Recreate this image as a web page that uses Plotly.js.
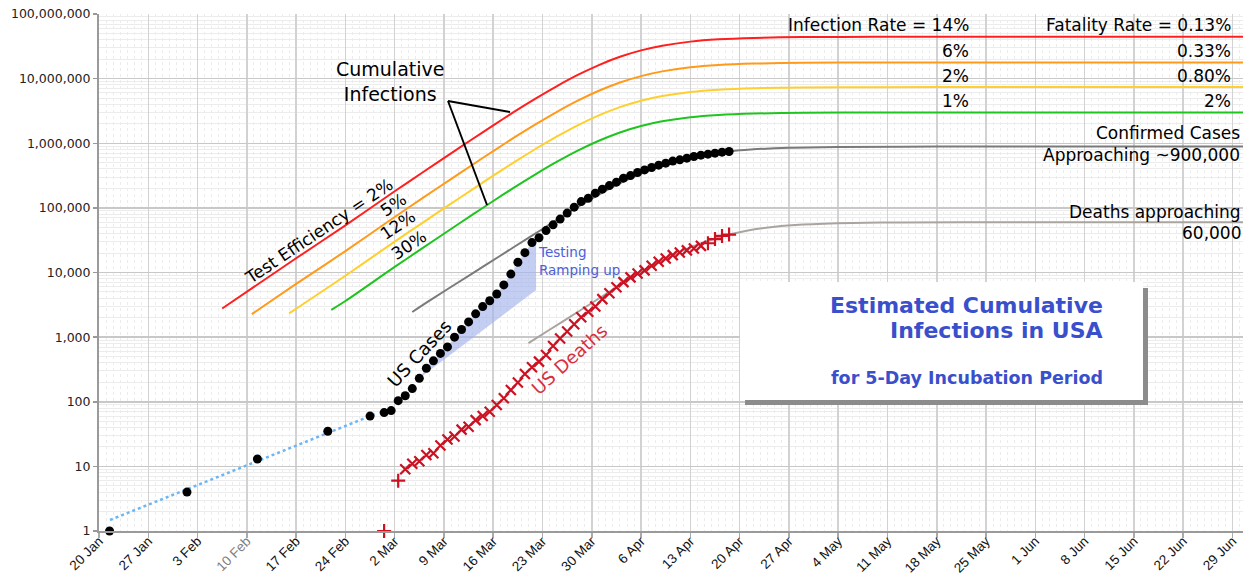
<!DOCTYPE html>
<html>
<head>
<meta charset="utf-8">
<script src="https://cdn.plot.ly/plotly-3.0.1.min.js"></script>
<style>
html,body{margin:0;padding:0;background:#fff;}
#chart{width:1245px;height:577px;}
</style>
</head>
<body>
<div id="chart"></div>
<script>
// ---------------- data ----------------
const earlyCaseDates = ['2020-01-21','2020-02-01','2020-02-11','2020-02-21','2020-02-27','2020-02-29','2020-03-01'];
const earlyCases     = [1, 4, 13, 35, 60, 68, 73];

const dailyDates = ['2020-03-02','2020-03-03','2020-03-04','2020-03-05','2020-03-06','2020-03-07','2020-03-08','2020-03-09','2020-03-10','2020-03-11',
  '2020-03-12','2020-03-13','2020-03-14','2020-03-15','2020-03-16','2020-03-17','2020-03-18','2020-03-19','2020-03-20','2020-03-21',
  '2020-03-22','2020-03-23','2020-03-24','2020-03-25','2020-03-26','2020-03-27','2020-03-28','2020-03-29','2020-03-30','2020-03-31',
  '2020-04-01','2020-04-02','2020-04-03','2020-04-04','2020-04-05','2020-04-06','2020-04-07','2020-04-08','2020-04-09','2020-04-10',
  '2020-04-11','2020-04-12','2020-04-13','2020-04-14','2020-04-15','2020-04-16','2020-04-17','2020-04-18'];
const dailyCases = [104,124,160,230,330,430,560,705,1000,1310,
  1720,2290,2970,3650,4640,6430,9450,14400,20300,29000,
  34500,44500,54600,67000,83000,102500,125000,141000,169000,195000,
  221000,250000,288000,316000,352000,387000,421000,458000,492000,529000,
  554000,588000,623000,655000,678000,703000,728000,745000];

const firstDeathDates = ['2020-02-29'];
const firstDeaths     = [1];
const dailyDeaths = [6,9,11,12,15,16,21,26,29,37,
  41,52,60,70,89,113,152,198,269,342,
  418,530,730,950,1220,1580,2030,2470,2980,3870,
  4760,5930,7090,8410,9620,10780,12720,14700,16480,18590,
  20460,22020,23530,25830,28330,32900,36770,38660];

// estimated cumulative infections for each test efficiency (curves)
const redDates = ['2020-02-06 12:00','2020-02-17','2020-02-24','2020-03-02','2020-03-06','2020-03-10','2020-03-13','2020-03-16','2020-03-19','2020-03-22','2020-03-25','2020-03-28','2020-03-31','2020-04-03','2020-04-06','2020-04-09','2020-04-13','2020-04-17','2020-04-22','2020-04-29','2020-05-09','2020-05-24','2020-07-01'];
const redInf = [2770,16600,53600,180700,356000,698000,1153000,1892000,3076000,4898000,7603000,11390000,16220000,21760000,27350000,32340000,37380000,40580000,42710000,43930000,44360000,44490000,44500000];

const orangeDates = ['2020-02-10 17:00','2020-02-17','2020-02-24','2020-03-02','2020-03-06','2020-03-10','2020-03-13','2020-03-16','2020-03-19','2020-03-22','2020-03-25','2020-03-28','2020-03-31','2020-04-03','2020-04-06','2020-04-09','2020-04-13','2020-04-17','2020-04-22','2020-04-29','2020-05-09','2020-05-24','2020-07-01'];
const orangeInf = [2270,6650,21460,72300,142600,279300,461300,756800,1230000,1959000,3041000,4556000,6486000,8703000,10940000,12940000,14950000,16230000,17080000,17580000,17740000,17800000,17800000];

const yellowDates = ['2020-02-16','2020-02-24','2020-03-02','2020-03-06','2020-03-10','2020-03-13','2020-03-16','2020-03-19','2020-03-22','2020-03-25','2020-03-28','2020-03-31','2020-04-03','2020-04-06','2020-04-09','2020-04-13','2020-04-17','2020-04-22','2020-04-29','2020-05-09','2020-05-24','2020-07-01'];
const yellowInf = [2330,8920,30060,59290,116100,191900,314800,511700,814700,1265000,1895000,2698000,3620000,4550000,5380000,6219000,6750000,7106000,7308000,7383000,7400000,7400000];

const greenDates = ['2020-02-22','2020-02-24','2020-03-02','2020-03-06','2020-03-10','2020-03-13','2020-03-16','2020-03-19','2020-03-22','2020-03-25','2020-03-28','2020-03-31','2020-04-03','2020-04-06','2020-04-09','2020-04-13','2020-04-17','2020-04-22','2020-04-29','2020-05-09','2020-05-24','2020-07-01'];
const greenInf = [2640,3620,12190,24040,47100,77800,127600,207500,330400,512900,768300,1094000,1468000,1845000,2182000,2522000,2737000,2882000,2963000,2993000,3000000,3000000];

// fitted confirmed-cases and deaths curves
const caseFitDates = ['2020-03-04 12:00','2020-03-07','2020-03-11','2020-03-15','2020-03-19','2020-03-23','2020-03-27','2020-03-31','2020-04-04','2020-04-08','2020-04-12','2020-04-16','2020-04-20','2020-04-27','2020-05-04','2020-05-18','2020-07-01'];
const caseFit = [2450,3700,7000,13200,25000,47100,89000,161000,271000,414000,564000,689000,776000,851000,877000,888000,889000];

const deathFitDates = ['2020-03-21','2020-03-24','2020-03-28','2020-04-01','2020-04-05','2020-04-09','2020-04-13','2020-04-17','2020-04-21','2020-04-25','2020-04-29','2020-05-06','2020-05-13','2020-05-27','2020-07-01'];
const deathFit = [810,1300,2450,4650,8690,15300,24500,34900,44300,51000,55200,58500,59560,59960,60000];

// early exponential trend of cases (light blue dotted)
const trendDates = ['2020-01-21 13:30','2020-02-28 11:00'];
const trendVals  = [1.48, 66];

// "Testing ramping up" shaded wedge: right edge of the wedge
const rampEdgeDates = ['2020-03-22 02:00','2020-03-22 02:00'];
const rampEdgeVals  = [28700, 5380];

// axis ticks
const xTickVals = ['2020-01-20','2020-01-27','2020-02-03','2020-02-10','2020-02-17','2020-02-24','2020-03-02','2020-03-09','2020-03-16','2020-03-23','2020-03-30','2020-04-06','2020-04-13','2020-04-20','2020-04-27','2020-05-04','2020-05-11','2020-05-18','2020-05-25','2020-06-01','2020-06-08','2020-06-15','2020-06-22','2020-06-29'];
const xTickText = ['20 Jan','27 Jan','3 Feb','<span style="color:#808080">10 Feb</span>','17 Feb','24 Feb','2 Mar','9 Mar','16 Mar','23 Mar','30 Mar','6 Apr','13 Apr','20 Apr','27 Apr','4 May','11 May','18 May','25 May','1 Jun','8 Jun','15 Jun','22 Jun','29 Jun'];
const yTickVals = [1,10,100,1000,10000,100000,1000000,10000000,100000000];
const yTickText = ['1','10','100','1,000','10,000','100,000','1,000,000','10,000,000','100,000,000'];

// ---------------- build ----------------
const noon = d => d + ' 12:00';
const caseX = earlyCaseDates.concat(dailyDates).map(noon);
const caseY = earlyCases.concat(dailyCases);
const deathX = firstDeathDates.concat(dailyDates).map(noon);
const deathY = firstDeaths.concat(dailyDeaths);
const nD = deathY.length;
const deathSymbols = deathY.map((v, i) => (i < 2 || i >= nD - 4) ? 'cross-thin' : 'x-thin');

// wedge polygon: cases points 5 Mar..21 Mar, then the right edge, back to start
const i0 = dailyDates.indexOf('2020-03-05'), i1 = dailyDates.indexOf('2020-03-21');
const wedgeX = dailyDates.slice(i0, i1 + 1).map(noon).concat(rampEdgeDates, [noon(dailyDates[i0])]);
const wedgeY = dailyCases.slice(i0, i1 + 1).concat(rampEdgeVals, [dailyCases[i0]]);

const line = (x, y, color, width) => ({
  type: 'scatter', mode: 'lines', x: x, y: y, hoverinfo: 'skip',
  line: {color: color, width: width, shape: 'spline', smoothing: 0.8}, cliponaxis: true
});

const traces = [
  {type: 'scatter', mode: 'lines', x: wedgeX, y: wedgeY, fill: 'toself', fillcolor: 'rgba(165,180,236,0.65)', line: {width: 0}, hoverinfo: 'skip'},
  line(redDates, redInf, '#ff1f1f', 2),
  line(orangeDates, orangeInf, '#ff9a1a', 2),
  line(yellowDates, yellowInf, '#ffcf2e', 2),
  line(greenDates, greenInf, '#1fc41f', 2),
  line(caseFitDates, caseFit, '#7a7a7a', 2),
  line(deathFitDates, deathFit, '#aaa49f', 2),
  {type: 'scatter', mode: 'lines', x: trendDates, y: trendVals, line: {color: '#6cb6f5', width: 2.5, dash: 'dot'}, hoverinfo: 'skip'},
  {type: 'scatter', mode: 'markers', x: caseX, y: caseY, marker: {color: '#000', size: 9}, cliponaxis: false},
  {type: 'scatter', mode: 'markers', x: deathX, y: deathY, cliponaxis: false,
   marker: {symbol: deathSymbols, size: 10, color: '#cc1122', line: {color: '#cc1122', width: 2.2}}}
];

// pixel -> paper helper for decorations
const PX = px => (px - 99) / 1144;
const PY = py => (531 - py) / 517;
const F = (size, color) => ({family: 'DejaVu Sans', size: size, color: color || '#000'});

function ann(text, px, py, size, opts) {
  return Object.assign({
    text: text, x: PX(px), y: PY(py), xref: 'paper', yref: 'paper',
    showarrow: false, xanchor: 'center', yanchor: 'middle', font: F(size)
  }, opts || {});
}

const blue = '#3a4fcb';
const annotations = [
  ann('Cumulative<br>Infections', 390, 81, 19, {}),
  ann('Test Efficiency = 2%', 319, 231, 17, {textangle: -34}),
  ann('5%', 393, 205, 17, {textangle: -34}),
  ann('12%', 398, 225, 17, {textangle: -34}),
  ann('30%', 409, 245, 17, {textangle: -34}),
  ann('US Cases', 419, 353, 18, {textangle: -47}),
  ann('US Deaths', 569, 359, 18, {textangle: -42, font: F(18, '#d8303c')}),
  ann('Testing<br>Ramping up', 536, 261, 13.5, {xanchor: 'left', align: 'left', font: F(13.5, '#4d60da')}),
  ann('Infection Rate = 14%', 971, 25, 17, {xanchor: 'right'}),
  ann('6%', 971, 51, 17, {xanchor: 'right'}),
  ann('2%', 971, 76, 17, {xanchor: 'right'}),
  ann('1%', 971, 101, 17, {xanchor: 'right'}),
  ann('Fatality Rate = 0.13%', 1233, 25, 17, {xanchor: 'right'}),
  ann('0.33%', 1233, 51, 17, {xanchor: 'right'}),
  ann('0.80%', 1233, 76, 17, {xanchor: 'right'}),
  ann('2%', 1233, 101, 17, {xanchor: 'right'}),
  ann('Confirmed Cases', 1242, 133, 17, {xanchor: 'right'}),
  ann('Approaching ~900,000', 1242, 155, 17, {xanchor: 'right'}),
  ann('Deaths approaching', 1243, 212, 17, {xanchor: 'right'}),
  ann('60,000', 1243, 233, 17, {xanchor: 'right'}),
  ann('<b>Estimated Cumulative</b>', 1105, 305, 22, {xanchor: 'right', font: F(22, blue)}),
  ann('<b>Infections in USA</b>', 1105, 330, 22, {xanchor: 'right', font: F(22, blue)}),
  ann('<b>for 5-Day Incubation Period</b>', 1105, 378, 17.5, {xanchor: 'right', font: F(17.5, blue)})
];

const shapes = [
  {type: 'line', xref: 'paper', yref: 'paper', x0: PX(448), y0: PY(101), x1: PX(510), y1: PY(112), line: {color: '#000', width: 2}, layer: 'above'},
  {type: 'line', xref: 'paper', yref: 'paper', x0: PX(448), y0: PY(101), x1: PX(487), y1: PY(205), line: {color: '#000', width: 2}, layer: 'above'},
  {type: 'rect', xref: 'paper', yref: 'paper', x0: PX(745), y0: PY(405), x1: PX(1148), y1: PY(288), line: {width: 0}, fillcolor: '#8c8c8c', layer: 'above'},
  {type: 'rect', xref: 'paper', yref: 'paper', x0: PX(740), y0: PY(400), x1: PX(1143), y1: PY(282), line: {width: 0}, fillcolor: '#ffffff', layer: 'above'}
];

const layout = {
  width: 1245, height: 577,
  margin: {l: 99, r: 2, t: 14, b: 46, pad: 0},
  paper_bgcolor: '#fff', plot_bgcolor: '#fff',
  showlegend: false,
  font: {family: 'DejaVu Sans', color: '#000'},
  xaxis: {
    type: 'date', range: ['2020-01-20', '2020-06-30 12:00'], autorange: false,
    tickmode: 'array', tickvals: xTickVals, ticktext: xTickText, tickangle: -45,
    tickfont: {family: 'Liberation Sans', size: 13.5, color: '#111'},
    ticks: 'outside', ticklen: 5, tickcolor: '#aaa', tickwidth: 1.5,
    ticklabelstandoff: -10,
    showgrid: true, gridcolor: '#d2d2d2', gridwidth: 1.5,
    showline: true, linecolor: '#9a9a9a', linewidth: 2, zeroline: false,
    minor: {dtick: 86400000, tick0: '2020-01-20', showgrid: true, gridcolor: '#ececec', griddash: 'dot', gridwidth: 1, ticks: ''}
  },
  yaxis: {
    type: 'log', range: [0, 8], autorange: false,
    tickmode: 'array', tickvals: yTickVals, ticktext: yTickText,
    tickfont: {family: 'DejaVu Sans', size: 12.5, color: '#222'},
    ticks: 'outside', ticklen: 4, tickcolor: '#999', tickwidth: 1.5,
    showgrid: true, gridcolor: '#c8c8c8', gridwidth: 1.5,
    showline: true, linecolor: '#9a9a9a', linewidth: 2, zeroline: false,
    minor: {dtick: 'D1', showgrid: true, gridcolor: '#ececec', gridwidth: 1, ticks: ''}
  },
  shapes: shapes,
  annotations: annotations
};

Plotly.newPlot('chart', traces, layout, {displayModeBar: false, staticPlot: true});
</script>
</body>
</html>
